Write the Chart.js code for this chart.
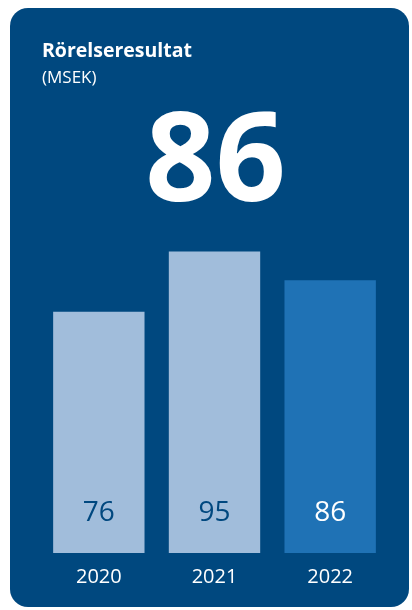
<!DOCTYPE html>
<html>
<head>
<meta charset="utf-8">
<script src="https://cdn.jsdelivr.net/npm/chart.js@4.4.1/dist/chart.umd.min.js"></script>
<style>
    html, body { margin: 0; padding: 0; background: #fff; }
    .card {
        position: absolute; left: 10px; top: 8px; width: 399px; height: 599px;
        background: #00487f; border-radius: 18px;
    }
    #wrap { position: absolute; left: 0; top: 0; width: 412px; height: 610px; }
</style>
</head>
<body>
<div class="card"></div>
<div id="wrap"><canvas id="chart"></canvas></div>
<script>
    const years = ['2020', '2021', '2022'];
    const rorelseresultat = [76, 95, 86];
    const barColors = ['#a1bddb', '#a1bddb', '#1f72b5'];
    const labelColors = ['#00487f', '#00487f', '#ffffff'];

    const title = 'Rörelseresultat';
    const unit = '(MSEK)';
    const FONT = '"Open Sans", "Noto Sans", sans-serif';

    // rubrik, enhet och stor siffra för senaste året
    const headerPlugin = {
        id: 'header',
        afterDraw(chart) {
            const ctx = chart.ctx;
            ctx.save();
            ctx.fillStyle = '#ffffff';
            ctx.textBaseline = 'alphabetic';
            ctx.textAlign = 'left';
            ctx.font = `bold 19.5px ${FONT}`;
            ctx.fillText(title, 42, 57);
            ctx.font = `17px ${FONT}`;
            ctx.fillText(unit, 42, 83);
            ctx.textAlign = 'center';
            ctx.font = `bold 123px ${FONT}`;
            ctx.fillText(String(rorelseresultat[rorelseresultat.length - 1]), 215.5, 201);
            ctx.restore();
        }
    };

    // värdet skrivs längst ner i varje stapel
    const valuePlugin = {
        id: 'values',
        afterDatasetsDraw(chart) {
            const ctx = chart.ctx;
            const meta = chart.getDatasetMeta(0);
            const y0 = chart.scales.y.getPixelForValue(0);
            ctx.save();
            ctx.font = `28px ${FONT}`;
            ctx.textAlign = 'center';
            ctx.textBaseline = 'alphabetic';
            meta.data.forEach((bar, i) => {
                ctx.fillStyle = labelColors[i];
                ctx.fillText(String(rorelseresultat[i]), bar.x, y0 - 32);
            });
            ctx.restore();
        }
    };

    new Chart(document.getElementById('chart'), {
        type: 'bar',
        data: {
            labels: years,
            datasets: [{
                data: rorelseresultat,
                backgroundColor: barColors,
                borderWidth: 0,
                barPercentage: 0.79,
                categoryPercentage: 1
            }]
        },
        options: {
            responsive: true,
            maintainAspectRatio: false,
            animation: false,
            layout: { padding: { left: 41, right: 24, top: 204, bottom: 0 } },
            plugins: { legend: { display: false }, tooltip: { enabled: false } },
            scales: {
                x: {
                    grid: { display: false, drawTicks: false },
                    border: { display: false },
                    ticks: { color: '#ffffff', font: { family: FONT, size: 20 }, padding: 12 },
                    afterFit(axis) { axis.height = 57; }
                },
                y: { display: false, min: 0, max: 110 }
            }
        },
        plugins: [headerPlugin, valuePlugin]
    });
</script>
</body>
</html>
